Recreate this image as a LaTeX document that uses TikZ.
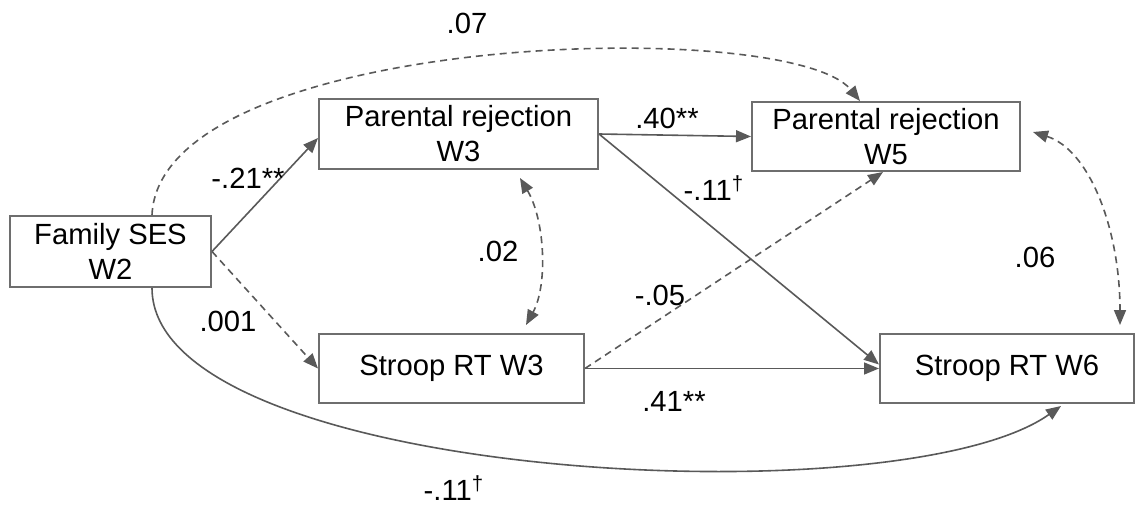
\documentclass[tikz,border=0pt]{standalone}
\usepackage{fontspec}
\setmainfont{Liberation Sans}
\usetikzlibrary{arrows.meta}
\definecolor{linegray}{HTML}{595959}
\definecolor{boxgray}{HTML}{6E6E6E}
\begin{document}
\begin{tikzpicture}[x=0.5pt,y=-0.5pt,
  var/.style={draw=boxgray,line width=1pt,fill=white,inner sep=0pt,align=center,
    font=\fontsize{14.6}{17.5}\selectfont},
  tip/.tip={Triangle[length=7.5pt,width=6pt]},
  effect/.style={draw=linegray,line width=0.8pt,-tip},
  nseffect/.style={effect,dash pattern=on 3.5pt off 2.5pt},
  cov/.style={draw=linegray,line width=0.8pt,dash pattern=on 3.5pt off 2.5pt,tip-tip},
  coef/.style={inner sep=0pt,font=\fontsize{14.6}{17}\selectfont}]
\useasboundingbox (0,0) rectangle (1136,508);

% variables
\node[var,minimum width=100.5pt,minimum height=35.5pt] (ses) at (110.5,251.5) {Family SES\\W2};
\node[var,minimum width=139.5pt,minimum height=35pt] (pr3) at (458.5,134) {Parental rejection\\W3};
\node[var,minimum width=134pt,minimum height=34.5pt] (pr5) at (886,136.5) {Parental rejection\\W5};
\node[var,minimum width=132.5pt,minimum height=34.5pt] (st3) at (451.5,368.5) {Stroop RT W3};
\node[var,minimum width=127pt,minimum height=34.5pt] (st6) at (1007,368.5) {Stroop RT W6};

% regression paths
\draw[effect] (ses.east) -- ([yshift=-2pt]pr3.west);
\draw[nseffect] (ses.east) -- (st3.west);
\draw[effect] (pr3.east) -- (pr5.west);
\draw[effect] (pr3.east) -- ([yshift=2pt]st6.west);
\draw[nseffect] (st3.east) -- ([xshift=-1.5pt]pr5.south);
\draw[effect] (st3.east) -- (st6.west);
\draw[nseffect] ([xshift=20.75pt]ses.north) .. controls (160,32) and (790,15) .. ([xshift=-13pt]pr5.north);
\draw[effect] ([xshift=20.75pt]ses.south) .. controls (152,480) and (900,520) .. ([xshift=27pt,yshift=-1pt]st6.south);

% residual covariances
\draw[cov] ([xshift=30.75pt,yshift=-4pt]pr3.south) .. controls (545,220) and (548,285) .. ([xshift=37.25pt,yshift=4pt]st3.north);
\draw[cov] ([xshift=6pt,yshift=2.25pt]pr5.east) .. controls (1090,150) and (1120,230) .. ([xshift=56.5pt,yshift=4pt]st6.north);

% coefficients
\node[coef] (c07) at (467,23) {.07};
\node[coef] (c21) at (248,178) {-.21**};
\node[coef] (c40) at (667,118) {.40**};
\node[coef] (c11a) at (714,188) {-.11\textsuperscript{†}};
\node[coef] (c02) at (498,251) {.02};
\node[coef] (c06) at (1035,257) {.06};
\node[coef] (c05) at (660,295) {-.05};
\node[coef] (c001) at (228,321) {.001};
\node[coef] (c41) at (674,401) {.41**};
\node[coef] (c11b) at (454,488) {-.11\textsuperscript{†}};
\end{tikzpicture}
\end{document}
